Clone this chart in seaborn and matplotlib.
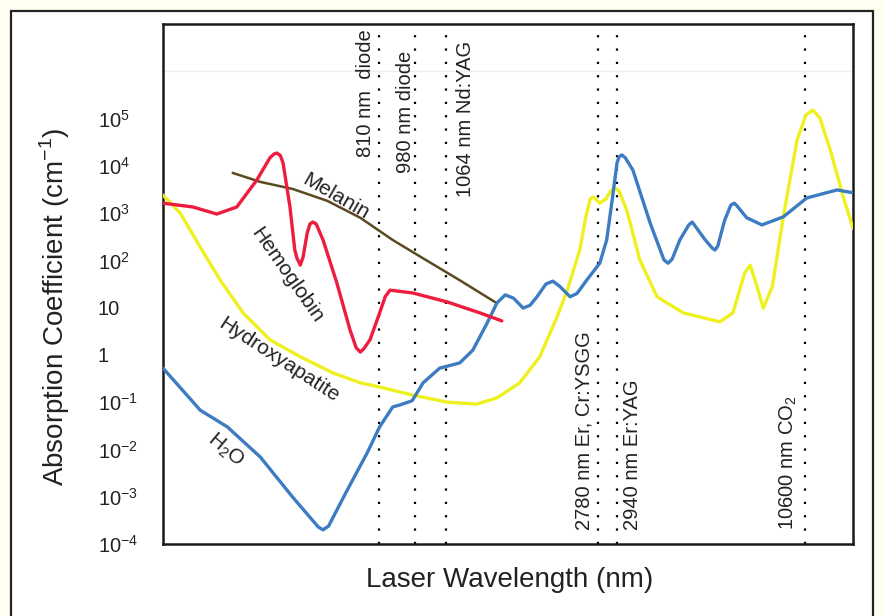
import matplotlib
matplotlib.use("Agg")
import matplotlib.pyplot as plt
import matplotlib.transforms as mtransforms
from matplotlib.patches import Rectangle
import numpy as np
import pandas as pd
import seaborn as sns

# x: position along the drawn wavelength axis (0..100 of its width, axis is not to scale)
# y: log10 of the absorption coefficient (cm^-1)
water_x = [0.0, 5.4, 9.3, 14.1, 18.8, 22.5, 23.2, 24.0, 26.7, 29.6, 31.4, 33.3, 34.3, 36.1,
           37.7, 40.1, 43.0, 44.9, 47.0, 48.4, 49.6, 50.8, 52.2, 53.2, 54.2, 55.5, 56.5, 57.5,
           59.0, 60.0, 61.4, 63.3, 64.3, 65.1, 65.8, 66.1, 66.5, 67.0, 68.1, 70.6, 72.6, 73.2,
           73.8, 74.9, 76.2, 76.7, 77.1, 78.6, 79.6, 80.0, 80.4, 81.4, 82.3, 82.8, 83.2, 84.6,
           86.8, 89.9, 93.3, 97.7, 100.0]
water_log = [-0.28, -1.17, -1.52, -2.16, -3.01, -3.64, -3.70, -3.62, -2.86, -2.07, -1.52, -1.10,
             -1.06, -0.97, -0.59, -0.28, -0.17, 0.10, 0.68, 1.10, 1.27, 1.20, 0.99, 1.05, 1.23,
             1.50, 1.56, 1.45, 1.23, 1.30, 1.58, 1.94, 2.43, 3.28, 4.06, 4.19, 4.23, 4.17, 3.91,
             2.79, 2.01, 1.94, 2.03, 2.43, 2.75, 2.81, 2.73, 2.43, 2.26, 2.22, 2.30, 2.85, 3.17,
             3.21, 3.15, 2.90, 2.75, 2.92, 3.32, 3.49, 3.43]

hemo_x = [0.0, 4.3, 7.8, 10.7, 13.6, 15.5, 16.1, 16.5, 17.0, 17.4, 18.4, 19.1, 19.4, 19.9,
          20.3, 20.9, 21.3, 21.7, 22.2, 23.2, 25.2, 27.1, 28.0, 28.6, 29.1, 30.0, 31.4, 32.2,
          32.9, 36.2, 41.2, 45.9, 49.1]
hemo_log = [3.21, 3.13, 2.98, 3.13, 3.70, 4.17, 4.25, 4.27, 4.22, 4.06, 3.13, 2.22, 2.05, 1.90,
            2.07, 2.58, 2.77, 2.81, 2.77, 2.43, 1.52, 0.53, 0.15, 0.06, 0.13, 0.32, 0.89, 1.23,
            1.37, 1.31, 1.12, 0.89, 0.72]

melanin_x = [10.1, 14.1, 18.8, 23.8, 28.6, 33.3, 38.3, 43.0, 48.1]
melanin_log = [3.85, 3.66, 3.51, 3.26, 2.90, 2.43, 1.99, 1.58, 1.12]

hydroxy_x = [0.0, 2.5, 5.4, 8.3, 11.6, 15.5, 19.9, 24.6, 28.6, 31.4, 36.2, 41.2, 45.5, 48.4,
             51.7, 54.6, 57.1, 58.6, 60.4, 61.2, 61.9, 62.4, 63.3, 64.2, 64.9, 65.5, 66.1,
             67.2, 69.1, 71.6, 75.4, 80.7, 82.6, 84.3, 85.1, 86.1, 87.0, 88.3, 89.9, 91.9,
             93.2, 94.2, 95.2, 96.7, 98.6, 100.0]
hydroxy_log = [3.38, 3.00, 2.28, 1.58, 0.89, 0.32, -0.04, -0.38, -0.59, -0.68, -0.85, -1.00,
               -1.04, -0.91, -0.59, -0.04, 0.80, 1.37, 2.22, 2.86, 3.30, 3.34, 3.21, 3.30,
               3.47, 3.53, 3.47, 3.07, 2.01, 1.23, 0.89, 0.70, 0.89, 1.73, 1.90, 1.44, 0.99,
               1.44, 2.92, 4.55, 5.08, 5.18, 5.01, 4.34, 3.34, 2.68]

laser_x = [31.3, 36.5, 41.0, 63.0, 65.8, 93.0]
laser_labels = ["810 nm  diode", "980 nm diode", "1064 nm Nd:YAG",
                "2780 nm Er, Cr:YSGG", "2940 nm Er:YAG", r"10600 nm CO$\mathregular{_2}$"]

ytick_vals = [1e-4, 1e-3, 1e-2, 1e-1, 1, 10, 1e2, 1e3, 1e4, 1e5]
ytick_labels = [r"$\mathregular{10^{-4}}$", r"$\mathregular{10^{-3}}$", r"$\mathregular{10^{-2}}$",
                r"$\mathregular{10^{-1}}$", "1", "10", r"$\mathregular{10^{2}}$",
                r"$\mathregular{10^{3}}$", r"$\mathregular{10^{4}}$", r"$\mathregular{10^{5}}$"]

frames = []
for name, xs, ls in [("Hydroxyapatite", hydroxy_x, hydroxy_log),
                     ("H2O", water_x, water_log),
                     ("Melanin", melanin_x, melanin_log),
                     ("Hemoglobin", hemo_x, hemo_log)]:
    frames.append(pd.DataFrame({"pos": xs, "absorption": 10 ** np.array(ls), "substance": name}))
df = pd.concat(frames, ignore_index=True)

palette = {"Hydroxyapatite": "#eef020", "H2O": "#3d7cc2",
           "Melanin": "#5a4a1f", "Hemoglobin": "#ee1c3e"}

sns.set_theme(style="white")
plt.rcParams["font.family"] = ["Liberation Sans", "DejaVu Sans"]

fig = plt.figure(figsize=(8.84, 6.16), dpi=100)
fig.patch.set_facecolor("#fffef0")
fig.patches.append(Rectangle((11 / 884, -0.02), 862 / 884, 1 - 11 / 616 + 0.02,
                             transform=fig.transFigure, facecolor="white",
                             edgecolor="#222222", lw=1.6, zorder=-10))

ax = fig.add_axes([163 / 884, 72 / 616, 690 / 884, 520 / 616])
ax.set_zorder(2)

for xv in laser_x:
    ax.axvline(xv, color="black", lw=1.6, linestyle=(0, (1, 5)), zorder=1)
ax.axhline(1e6, color="#eeeeee", lw=1, zorder=0)

sns.lineplot(data=df, x="pos", y="absorption", hue="substance", palette=palette,
             estimator=None, sort=False, legend=False, ax=ax, lw=2.4, zorder=3)
for line in ax.lines:
    line.set_solid_joinstyle("round")
    line.set_solid_capstyle("round")
    if line.get_color() == palette["Melanin"]:
        line.set_linewidth(1.8)

ax.set_yscale("log")
ax.set_ylim(1e-4, 1e7)
ax.set_xlim(0, 100)
ax.set_xticks([])
ax.set_yticks(ytick_vals)
ax.set_yticklabels(ytick_labels)
ax.minorticks_off()
ax.tick_params(axis="y", length=0, pad=47, labelsize=14.5, labelcolor="#222222")
for lbl in ax.get_yticklabels():
    lbl.set_horizontalalignment("left")
ax.set_xlabel("")
ax.set_ylabel("")
for sp in ax.spines.values():
    sp.set_color("#1a1a1a")
    sp.set_linewidth(1.8)

trans = mtransforms.blended_transform_factory(ax.transData, ax.transAxes)
label_pos = [(29.4, 0.744), (35.1, 0.713), (43.9, 0.667), (61.0, 0.027), (68.1, 0.027), (90.7, 0.027)]
for (tx, ty), txt in zip(label_pos, laser_labels):
    ax.text(tx, ty, txt, transform=trans, rotation=90, ha="center", va="bottom",
            fontsize=14.5, color="#222222")

curve_labels = [("Melanin", 25.1, 3.34, -30), ("Hemoglobin", 18.0, 1.69, -55),
                ("Hydroxyapatite", 16.8, -0.11, -33), (r"H$\mathregular{_2}$O", 9.1, -2.01, -40)]
for txt, tx, ty, rot in curve_labels:
    ax.text(tx, 10 ** ty, txt, rotation=rot, ha="center", va="center",
            fontsize=15, color="#222222", rotation_mode="anchor")

fig.text(55 / 884, 1 - 307 / 616, r"Absorption Coefficient (cm$^{\mathregular{-1}}$)",
         rotation=90, ha="center", va="center", fontsize=20, color="#222222")
fig.text(510 / 884, 1 - 580 / 616, "Laser Wavelength (nm)",
         ha="center", va="center", fontsize=20, color="#222222")

fig.savefig("out.png", dpi=100, facecolor=fig.get_facecolor())
